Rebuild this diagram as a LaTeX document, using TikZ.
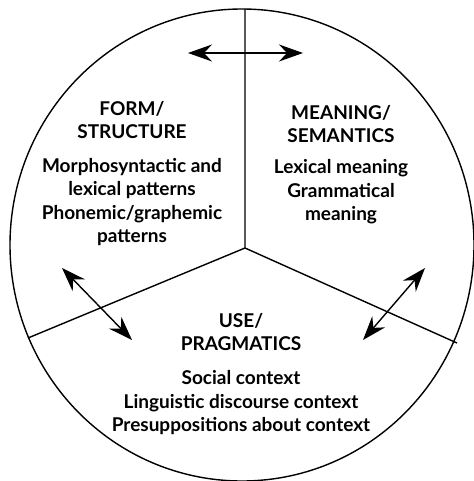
\documentclass[tikz,border=0pt]{standalone}
\usepackage{fontspec}
\setmainfont{Lato}
\usetikzlibrary{arrows.meta}

\begin{document}
\begin{tikzpicture}[x=1pt,y=-1pt,line width=1.4pt,
                    head text/.style={align=center,inner sep=0pt,font=\fontsize{19}{23.5}\selectfont\bfseries},
                    body text/.style={align=center,inner sep=0pt,font=\fontsize{19}{23.5}\selectfont\bfseries},
                    link/.style={{Stealth[length=24pt,width=17pt,inset=8pt]}-{Stealth[length=24pt,width=17pt,inset=8pt]},line width=1.4pt}]
 \useasboundingbox (0,0) rectangle (473,481);

%Outer circle
 \draw (242,245) ellipse [x radius=232pt, y radius=236pt];

%Dividing lines
 \coordinate (hub) at (245,248);
 \coordinate (TopEnd) at (245,9);
 \coordinate (LeftEnd) at (28,338);
 \coordinate (RightEnd) at (457,343);
 \draw (hub) -- (TopEnd) (hub) -- (LeftEnd) (hub) -- (RightEnd);

%Section texts
 \node[head text] (FormHead) at (132,120) {FORM/\\STRUCTURE};
 \node[body text] (FormBody) at (132,202) {Morphosyntactic and\\lexical patterns\\Phonemic/graphemic\\patterns};

 \node[head text] (MeaningHead) at (341,124) {MEANING/\\SEMANTICS};
 \node[body text] (MeaningBody) at (341,192) {Lexical meaning\\Grammatical\\meaning};

 \node[head text] (UseHead) at (241,332) {USE/\\PRAGMATICS};
 \node[body text] (UseBody) at (241,403) {Social context\\Linguistic discourse context\\Presuppositions about context};

%Two-way arrows
 \coordinate (TopA) at (188,53);
 \coordinate (TopB) at (303,53);
 \draw[link] (TopA) -- (TopB);

 \coordinate (LeftA) at (62,268);
 \coordinate (LeftB) at (132,340);
 \draw[link] (LeftA) -- (LeftB);

 \coordinate (RightA) at (425,268);
 \coordinate (RightB) at (363,340);
 \draw[link] (RightA) -- (RightB);
\end{tikzpicture}
\end{document}
